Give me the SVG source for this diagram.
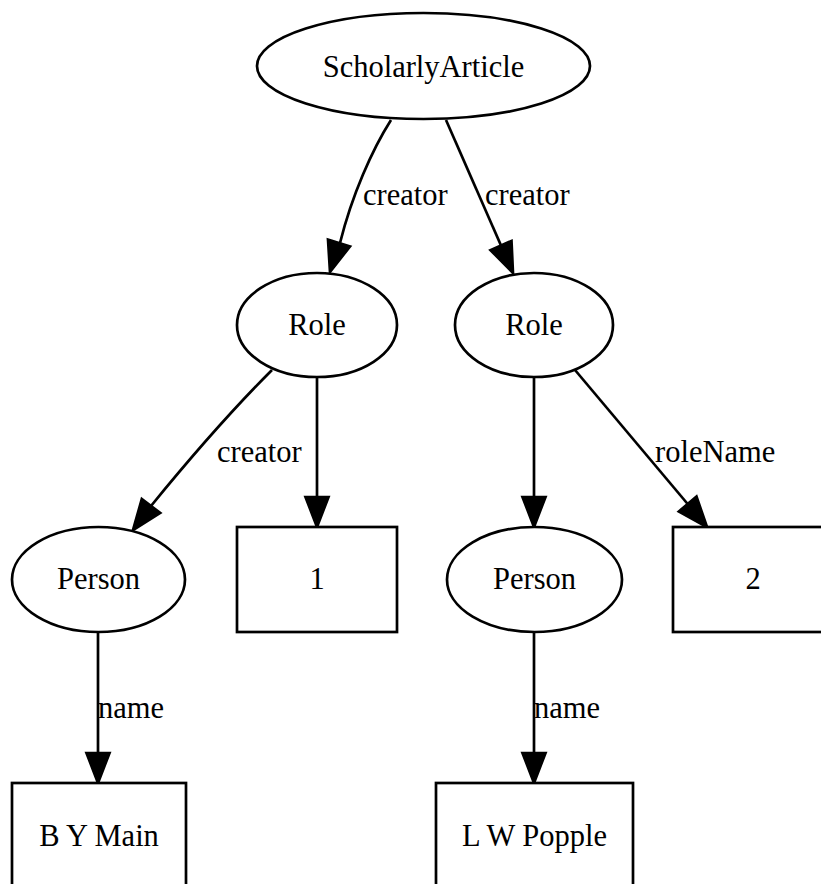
<svg xmlns="http://www.w3.org/2000/svg" width="821" height="884" viewBox="0 0 821 884">
<style>
.n{fill:#fff;stroke:#000;stroke-width:2.7}
.t{font-family:"Liberation Serif","Times New Roman",serif;font-size:30.5px;fill:#000}
.m{text-anchor:middle}
.e{fill:none;stroke:#000;stroke-width:2.7}
.h{fill:#000;stroke:#000;stroke-width:2.7}
</style>
<rect width="821" height="884" fill="#fff"/>
<g id="edges">
<path class="e" d="M391,120 C372,150 352,195 340,243"/>
<polygon class="h" points="330,272 350,246.4 328,239.6"/>
<text class="t" x="363" y="205">creator</text>
<path class="e" d="M446,120 L501,245.5"/>
<polygon class="h" points="513,273 511.5,240.9 490.5,250.1"/>
<text class="t" x="485" y="205">creator</text>
<path class="e" d="M272,370 C240,402 195,452 151,506"/>
<polygon class="h" points="133,530 160.2,512.9 141.8,499.1"/>
<text class="t" x="217" y="462">creator</text>
<path class="e" d="M317,377 L317,497"/>
<polygon class="h" points="317,527 305.5,497 328.5,497"/>
<path class="e" d="M534,377 L534,497"/>
<polygon class="h" points="534,527 522.5,497 545.5,497"/>
<path class="e" d="M575,370 L687.7,504"/>
<polygon class="h" points="707,527 696.5,496.6 678.9,511.4"/>
<text class="t" x="655" y="462">roleName</text>
<path class="e" d="M98,632 L98,753"/>
<polygon class="h" points="98,783 86.5,753 109.5,753"/>
<text class="t" x="98" y="718">name</text>
<path class="e" d="M534,632 L534,753"/>
<polygon class="h" points="534,783 522.5,753 545.5,753"/>
<text class="t" x="534" y="718">name</text>
</g>
<g id="scholarlyArticle">
<ellipse class="n" cx="423.5" cy="66" rx="166.5" ry="53"/>
<text class="t m" x="423.5" y="77">ScholarlyArticle</text>
</g>
<g id="role1">
<ellipse class="n" cx="317" cy="325" rx="80" ry="52"/>
<text class="t m" x="317" y="335">Role</text>
</g>
<g id="role2">
<ellipse class="n" cx="534" cy="325" rx="79" ry="52"/>
<text class="t m" x="534" y="335">Role</text>
</g>
<g id="person1">
<ellipse class="n" cx="98.5" cy="579.5" rx="86.5" ry="52.5"/>
<text class="t m" x="98.5" y="589">Person</text>
</g>
<g id="value1">
<rect class="n" x="237" y="527" width="160" height="105"/>
<text class="t m" x="317" y="589">1</text>
</g>
<g id="person2">
<ellipse class="n" cx="534.5" cy="579.5" rx="87.5" ry="52.5"/>
<text class="t m" x="534.5" y="589">Person</text>
</g>
<g id="value2">
<rect class="n" x="673" y="527" width="160" height="105"/>
<text class="t m" x="753" y="589">2</text>
</g>
<g id="name1">
<rect class="n" x="12" y="783" width="174" height="105"/>
<text class="t m" x="99" y="846">B Y Main</text>
</g>
<g id="name2">
<rect class="n" x="436" y="783" width="197" height="105"/>
<text class="t m" x="534.5" y="846">L W Popple</text>
</g>
</svg>
